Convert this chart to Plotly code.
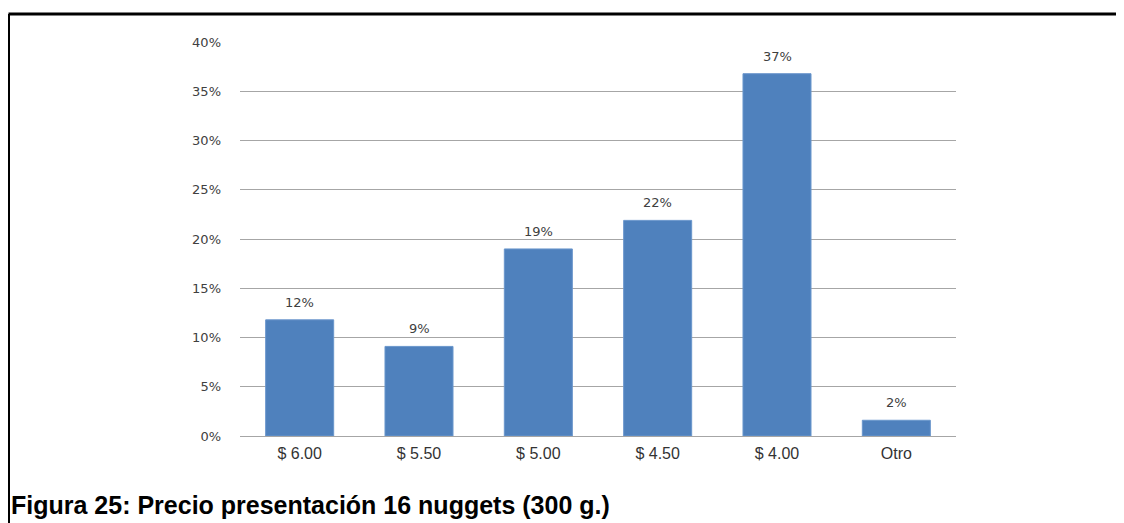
import plotly.graph_objects as go

categories = ["$ 6.00", "$ 5.50", "$ 5.00", "$ 4.50", "$ 4.00", "Otro"]
values = [0.118, 0.091, 0.190, 0.219, 0.368, 0.016]
labels = ["12%", "9%", "19%", "22%", "37%", "2%"]
y_ticks = [0, 0.05, 0.10, 0.15, 0.20, 0.25, 0.30, 0.35, 0.40]
caption = "Figura 25: Precio presentación 16 nuggets (300 g.)"

# page has an 8px body margin; figure coordinates are page - 8
W, H = 1116, 515
L, R, T, B = 232, 948, 34, 428

def px_x(x):
    return (x - L) / (R - L)

def px_y(y):
    return (B - y) / (B - T)

fig = go.Figure(go.Bar(
    x=categories, y=values,
    marker=dict(color="#4F81BD", line=dict(color="#6a96cc", width=1)),
    cliponaxis=False, hoverinfo="skip",
))

for c, v, t in zip(categories, values, labels):
    fig.add_annotation(x=c, y=v, text=t, showarrow=False, yanchor="bottom",
                       yshift=8, font=dict(family="DejaVu Sans", size=13, color="#404040"))

fig.update_layout(
    width=W, height=H,
    margin=dict(l=L, r=W - R, t=T, b=H - B),
    paper_bgcolor="white", plot_bgcolor="white",
    bargap=0.43, showlegend=False,
    xaxis=dict(showgrid=False, showline=False, ticks="", ticklabelstandoff=6,
               tickfont=dict(family="Liberation Sans", size=16, color="#333333")),
    yaxis=dict(range=[0, 0.4002], tickvals=y_ticks, tickformat=".0%",
               showgrid=True, gridcolor="#a6a6a6", gridwidth=1,
               zeroline=True, zerolinecolor="#a6a6a6", zerolinewidth=1,
               showline=False, ticks="", ticklabelstandoff=18,
               tickfont=dict(family="DejaVu Sans", size=13, color="#404040")),
    font=dict(family="Liberation Sans"),
)

# frame border
fig.add_shape(type="line", xref="paper", yref="paper",
              x0=px_x(0.5), x1=px_x(1130), y0=px_y(6), y1=px_y(6),
              line=dict(color="black", width=3))
fig.add_shape(type="line", xref="paper", yref="paper",
              x0=px_x(0.5), x1=px_x(0.5), y0=px_y(6), y1=px_y(530),
              line=dict(color="black", width=3))

fig.add_annotation(text="<b>" + caption + "</b>", xref="paper", yref="paper",
                   x=px_x(1), y=px_y(497), xanchor="left", yanchor="middle",
                   showarrow=False,
                   font=dict(family="Liberation Sans", size=25, color="black"))

fig.write_html("out.html")
